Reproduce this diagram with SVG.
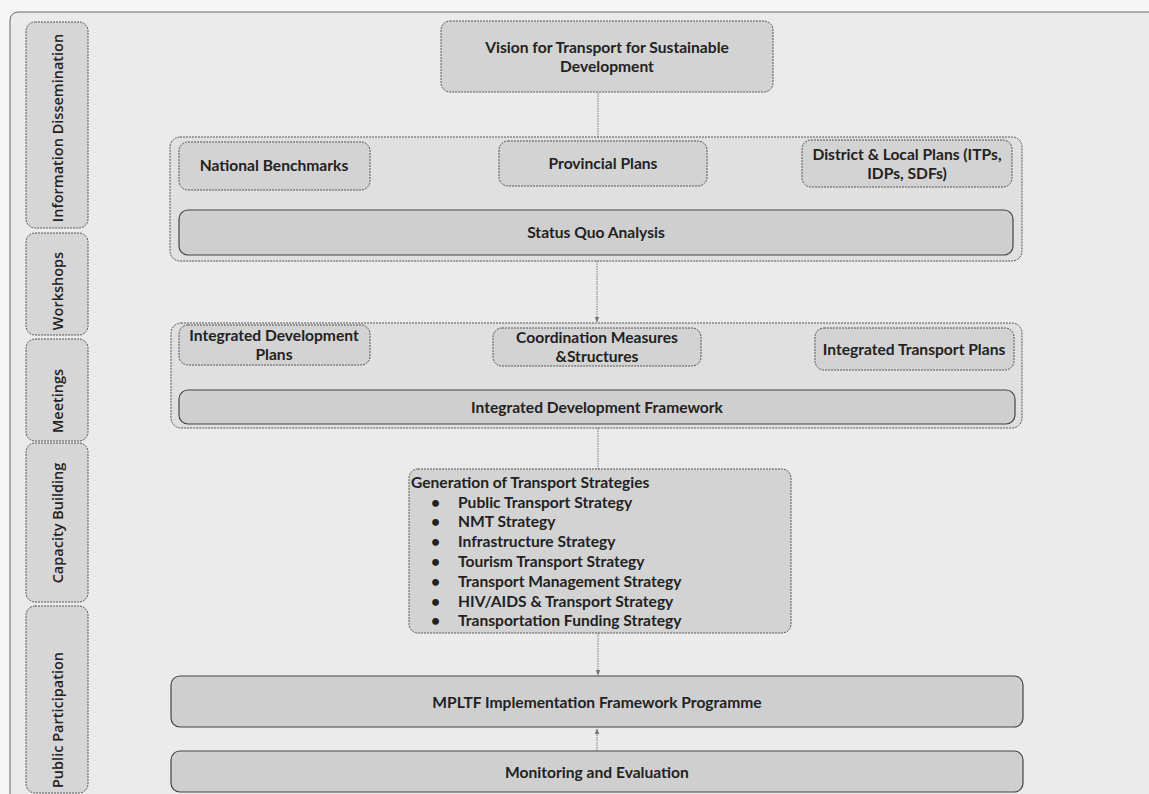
<svg xmlns="http://www.w3.org/2000/svg" width="1149" height="794" viewBox="0 0 1149 794">
<defs>
<marker id="arr" viewBox="0 0 10 10" refX="9" refY="5" markerWidth="6" markerHeight="6" orient="auto-start-reverse">
<path d="M0,1 L10,5 L0,9 z" fill="#777"/>
</marker>
<style>
.frame{fill:#ebebeb;stroke:#666;stroke-width:1}
.tab{fill:#d6d6d6;stroke:#555;stroke-width:1;stroke-dasharray:2 1}
.grp{fill:#e0e0e0;stroke:#555;stroke-width:1;stroke-dasharray:2 1}
.box{fill:#d3d3d3;stroke:#555;stroke-width:1;stroke-dasharray:2 1}
.band{fill:#cfcfcf;stroke:#444;stroke-width:1.2}
.t{font-family:Lato,"Liberation Sans",sans-serif;font-weight:700;font-size:15.6px;fill:#222;text-anchor:middle;dominant-baseline:central}
.ts{font-family:Lato,"Liberation Sans",sans-serif;font-weight:700;font-size:15.6px;fill:#222;dominant-baseline:central}
.v{font-family:"Open Sans","Liberation Sans",sans-serif;font-weight:600;font-size:14.5px;fill:#222;text-anchor:middle;dominant-baseline:central}
.c{stroke:#777;stroke-width:1;stroke-dasharray:1.5 1;fill:none}
</style>
</defs>
<rect x="0" y="0" width="1149" height="794" fill="#f7f7f7"/>
<rect class="frame" x="10" y="12" width="1160" height="800" rx="8"/>

<g id="tab-info"><rect class="tab" x="26" y="22" width="62" height="206" rx="9"/><text class="v" transform="translate(57,128) rotate(-90)">Information Dissemination</text></g>
<g id="tab-workshops"><rect class="tab" x="26" y="233" width="62" height="102" rx="9"/><text class="v" transform="translate(57,291) rotate(-90)">Workshops</text></g>
<g id="tab-meetings"><rect class="tab" x="26" y="339" width="62" height="102" rx="9"/><text class="v" transform="translate(57,401) rotate(-90)">Meetings</text></g>
<g id="tab-capacity"><rect class="tab" x="26" y="443" width="62" height="159" rx="9"/><text class="v" transform="translate(57,523) rotate(-90)">Capacity Building</text></g>
<g id="tab-public"><rect class="tab" x="26" y="606" width="62" height="187" rx="9"/><text class="v" transform="translate(57,720) rotate(-90)">Public Participation</text></g>

<g id="connectors">
<line class="c" x1="598" y1="93" x2="598" y2="137"/>
<line class="c" x1="597" y1="261" x2="597" y2="322" marker-end="url(#arr)"/>
<line class="c" x1="598" y1="428" x2="598" y2="469"/>
<line class="c" x1="598" y1="633" x2="598" y2="675" marker-end="url(#arr)"/>
<line class="c" x1="597" y1="751" x2="597" y2="729" marker-end="url(#arr)"/>
</g>

<g id="vision"><rect class="box" x="441" y="21" width="332" height="71" rx="9"/>
<text class="t" x="607" y="47">Vision for Transport for Sustainable</text>
<text class="t" x="607" y="66">Development</text></g>

<g id="group1"><rect class="grp" x="170" y="137" width="852" height="124" rx="10"/></g>
<g id="national"><rect class="box" x="179" y="142" width="191" height="48" rx="9"/><text class="t" x="274" y="165">National Benchmarks</text></g>
<g id="provincial"><rect class="box" x="499" y="141" width="208" height="45" rx="9"/><text class="t" x="603" y="163">Provincial Plans</text></g>
<g id="district"><rect class="box" x="802" y="140" width="210" height="47" rx="9"/><text class="t" x="907" y="154">District &amp; Local Plans (ITPs,</text><text class="t" x="907" y="173">IDPs, SDFs)</text></g>
<g id="statusquo"><rect class="band" x="179" y="210" width="834" height="45" rx="9"/><text class="t" x="596" y="232">Status Quo Analysis</text></g>

<g id="group2"><rect class="grp" x="171" y="323" width="851" height="105" rx="10"/></g>
<g id="idp"><rect class="box" x="179" y="325" width="191" height="40" rx="9"/><text class="t" x="274" y="335">Integrated Development</text><text class="t" x="274" y="354">Plans</text></g>
<g id="coord"><rect class="box" x="493" y="328" width="208" height="38" rx="9"/><text class="t" x="597" y="337">Coordination Measures</text><text class="t" x="597" y="356">&amp;Structures</text></g>
<g id="itp"><rect class="box" x="815" y="328" width="199" height="42" rx="9"/><text class="t" x="914" y="349">Integrated Transport Plans</text></g>
<g id="idf"><rect class="band" x="179" y="390" width="836" height="34" rx="9"/><text class="t" x="597" y="407">Integrated Development Framework</text></g>

<g id="strategies"><rect class="box" x="409" y="469" width="382" height="164" rx="9"/>
<text class="ts" x="411" y="482">Generation of Transport Strategies</text>
<text class="ts" x="431" y="502">•</text><text class="ts" x="458" y="502">Public Transport Strategy</text>
<text class="ts" x="431" y="521">•</text><text class="ts" x="458" y="521">NMT Strategy</text>
<text class="ts" x="431" y="541">•</text><text class="ts" x="458" y="541">Infrastructure Strategy</text>
<text class="ts" x="431" y="561">•</text><text class="ts" x="458" y="561">Tourism Transport Strategy</text>
<text class="ts" x="431" y="581">•</text><text class="ts" x="458" y="581">Transport Management Strategy</text>
<text class="ts" x="431" y="601">•</text><text class="ts" x="458" y="601">HIV/AIDS &amp; Transport Strategy</text>
<text class="ts" x="431" y="620">•</text><text class="ts" x="458" y="620">Transportation Funding Strategy</text>
</g>

<g id="mpltf"><rect class="band" x="171" y="676" width="852" height="51" rx="9"/><text class="t" x="597" y="702">MPLTF Implementation Framework Programme</text></g>
<g id="monitoring"><rect class="band" x="171" y="751" width="852" height="41" rx="9"/><text class="t" x="597" y="772">Monitoring and Evaluation</text></g>
</svg>
